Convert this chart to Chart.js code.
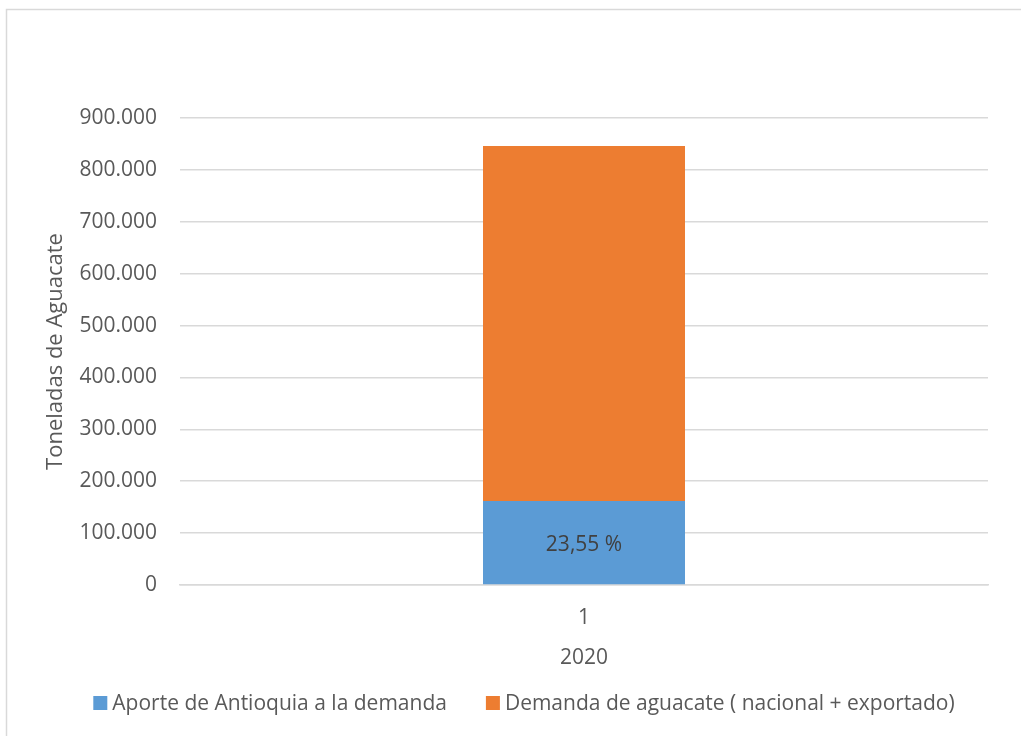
<!DOCTYPE html>
<html>
<head>
<meta charset="utf-8">
<script src="https://cdn.jsdelivr.net/npm/chart.js@4/dist/chart.umd.min.js"></script>
<style>
  html, body { margin: 0; padding: 0; background: #fff; }
  #wrap { position: relative; width: 1021px; height: 736px; }
</style>
</head>
<body>
<div id="wrap"><canvas id="chart" width="1021" height="736"></canvas></div>
<script>
// Datos
const categories = ['1'];
const aporteAntioquia = [162000];
const demandaAguacate = [684000];
const aporteLabel = '23,55 %';
const yTicks = [0, 100000, 200000, 300000, 400000, 500000, 600000, 700000, 800000, 900000];

const TEXT = '#595959';
const FONT = "'Open Sans', sans-serif";

// Separador de miles con punto
function fmt(v) {
    return String(v).replace(/\B(?=(\d{3})+(?!\d))/g, '.');
}

// Marco gris del gráfico
const framePlugin = {
    id: 'frame',
    beforeDraw(chart) {
        const ctx = chart.ctx;
        ctx.save();
        ctx.strokeStyle = '#d9d9d9';
        ctx.lineWidth = 1.5;
        ctx.strokeRect(6.5, 9.5, 1200, 1000);
        ctx.restore();
    }
};

// Etiqueta dentro de la barra azul
const labelPlugin = {
    id: 'barLabel',
    afterDatasetsDraw(chart) {
        const bar = chart.getDatasetMeta(0).data[0];
        if (!bar) return;
        const ctx = chart.ctx;
        ctx.save();
        ctx.fillStyle = '#404040';
        ctx.font = '21px ' + FONT;
        ctx.textAlign = 'center';
        ctx.textBaseline = 'middle';
        ctx.fillText(aporteLabel, bar.x, (bar.y + bar.base) / 2 + 2);
        ctx.restore();
    }
};

// Leyenda al estilo de Excel (cuadro pegado al texto)
const legendPlugin = {
    id: 'excelLegend',
    afterDraw(chart) {
        const ctx = chart.ctx;
        const box = 14, gap = 5, itemGap = 39, centerX = 524, centerY = 704;
        ctx.save();
        ctx.font = '21px ' + FONT;
        const items = chart.data.datasets.map(ds => ({
            text: ds.label,
            color: ds.backgroundColor,
            w: ctx.measureText(ds.label).width
        }));
        const total = items.reduce((s, it) => s + box + gap + it.w, 0) + itemGap * (items.length - 1);
        let x = centerX - total / 2;
        ctx.textBaseline = 'middle';
        ctx.textAlign = 'left';
        items.forEach(it => {
            ctx.fillStyle = it.color;
            ctx.fillRect(x, centerY - 8, box, box);
            ctx.fillStyle = TEXT;
            ctx.fillText(it.text, x + box + gap, centerY);
            x += box + gap + it.w + itemGap;
        });
        ctx.restore();
    }
};

new Chart(document.getElementById('chart'), {
    type: 'bar',
    data: {
        labels: categories,
        datasets: [{
            label: 'Aporte de Antioquia a la demanda',
            data: aporteAntioquia,
            backgroundColor: '#5b9bd5',
            barPercentage: 0.25,
            categoryPercentage: 1
        }, {
            label: 'Demanda de aguacate ( nacional + exportado)',
            data: demandaAguacate,
            backgroundColor: '#ed7d31',
            barPercentage: 0.25,
            categoryPercentage: 1
        }]
    },
    options: {
        responsive: false,
        animation: false,
        layout: { padding: { left: 0, top: 118, right: 33, bottom: 56 } },
        font: { family: FONT },
        plugins: {
            tooltip: { enabled: false },
            legend: { display: false }
        },
        scales: {
            x: {
                stacked: true,
                grid: { display: false, drawTicks: false },
                border: { color: '#d9d9d9', width: 1.5 },
                ticks: { color: TEXT, font: { family: FONT, size: 21 }, padding: 20 },
                title: {
                    display: true,
                    text: '2020',
                    color: TEXT,
                    font: { family: FONT, size: 21 },
                    padding: { top: 0, bottom: 9 }
                },
                afterFit(scale) { scale.height = 95; }
            },
            y: {
                stacked: true,
                min: 0,
                max: 900000,
                afterBuildTicks(scale) { scale.ticks = yTicks.map(v => ({ value: v })); },
                grid: { color: '#d9d9d9', lineWidth: 1.5, drawTicks: false },
                border: { display: false },
                ticks: {
                    color: TEXT,
                    font: { family: FONT, size: 21 },
                    padding: 23,
                    callback: v => fmt(v)
                },
                title: {
                    display: true,
                    text: 'Toneladas de Aguacate',
                    color: TEXT,
                    font: { family: FONT, size: 22 },
                    padding: { top: 43, bottom: 0 }
                },
                afterFit(scale) { scale.width = 180; }
            }
        }
    },
    plugins: [framePlugin, labelPlugin, legendPlugin]
});
</script>
</body>
</html>
